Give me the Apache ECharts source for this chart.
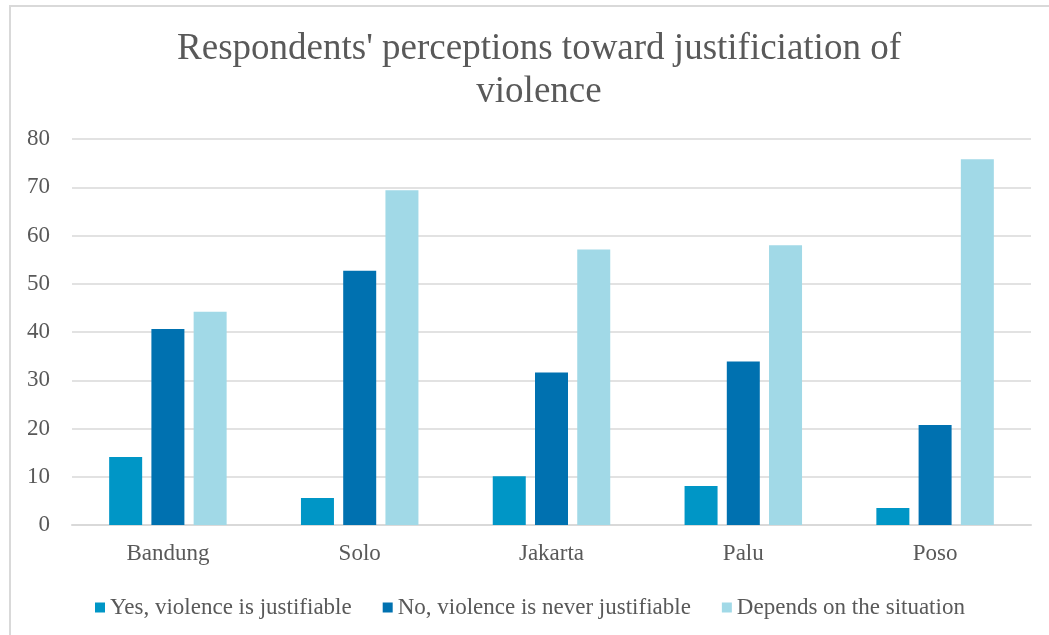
<!DOCTYPE html>
<html>
<head>
<meta charset="utf-8">
<script src="https://cdn.jsdelivr.net/npm/echarts@6/dist/echarts.min.js"></script>
<style>
  html, body { margin: 0; padding: 0; background: #fff; }
  #main { width: 1049px; height: 635px; }
</style>
</head>
<body>
<div id="main"></div>
<script>
// 数据
var cities = ['Bandung', 'Solo', 'Jakarta', 'Palu', 'Poso'];
var yesJustifiable = [14.1, 5.6, 10.1, 8.1, 3.5];
var neverJustifiable = [40.6, 52.7, 31.6, 33.9, 20.7];
var dependsSituation = [44.2, 69.4, 57.1, 58.0, 75.8];
var seriesNames = ['Yes, violence is justifiable', 'No, violence is never justifiable', 'Depends on the situation'];

var font = '"Liberation Serif", "DejaVu Serif", serif';
var grey = '#595959';

var chart = echarts.init(document.getElementById('main'));
chart.setOption({
    animation: false,
    color: ['#0096c6', '#0071b0', '#a1d9e7'],
    title: {
        text: "Respondents' perceptions toward justificiation of\nviolence",
        left: 534,
        textAlign: 'center',
        top: 23,
        textStyle: {
            fontFamily: font,
            fontSize: 37,
            fontWeight: 'normal',
            color: grey,
            lineHeight: 43
        }
    },
    graphic: [{
        type: 'rect',
        shape: { x: 10, y: 6, width: 1100, height: 700 },
        style: { fill: 'none', stroke: '#d9d9d9', lineWidth: 2 },
        silent: true
    }],
    legend: {
        data: seriesNames,
        left: 90,
        top: 591,
        itemWidth: 10,
        itemHeight: 10,
        itemGap: 31,
        icon: 'rect',
        textStyle: { fontFamily: font, fontSize: 23, color: grey }
    },
    grid: {
        left: 72,
        right: 18,
        top: 139,
        bottom: 110
    },
    xAxis: {
        type: 'category',
        data: cities,
        axisTick: { show: false },
        axisLine: { lineStyle: { color: '#d9d9d9', width: 2 } },
        axisLabel: { fontFamily: font, fontSize: 23, color: grey, margin: 17 }
    },
    yAxis: {
        type: 'value',
        min: 0,
        max: 80,
        interval: 10,
        axisLabel: { fontFamily: font, fontSize: 23, color: grey, margin: 22 },
        splitLine: { lineStyle: { color: '#d9d9d9', width: 1.5 } }
    },
    series: [
        {
            name: seriesNames[0],
            type: 'bar',
            data: yesJustifiable,
            barWidth: 33,
            barGap: '28%'
        },
        {
            name: seriesNames[1],
            type: 'bar',
            data: neverJustifiable,
            barWidth: 33,
            barGap: '28%'
        },
        {
            name: seriesNames[2],
            type: 'bar',
            data: dependsSituation,
            barWidth: 33,
            barGap: '28%'
        }
    ]
});
</script>
</body>
</html>
